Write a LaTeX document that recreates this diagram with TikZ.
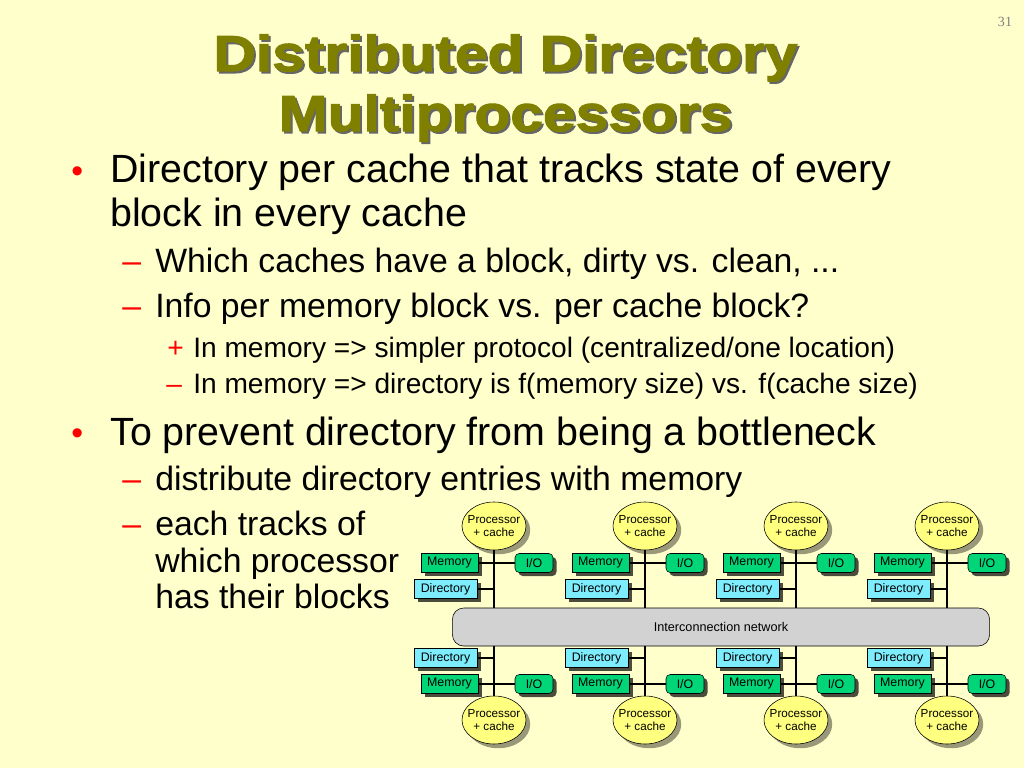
\documentclass[tikz,border=0pt]{standalone}
\usepackage{fontspec}
\setmainfont{Liberation Sans}
\newfontfamily\titelfont{Liberation Sans}[BoldFeatures={FakeBold=2},FakeStretch=1.16]
\newfontfamily\seitenfont{Liberation Serif}
\usetikzlibrary{shapes.geometric,shadows}
\definecolor{hgrund}{RGB}{255,255,204}
\definecolor{titel}{RGB}{128,128,0}
\definecolor{speicher}{RGB}{0,214,120}
\definecolor{verz}{RGB}{125,236,252}
\definecolor{proz}{RGB}{255,255,128}
\definecolor{netz}{RGB}{210,210,210}
\begin{document}
\begin{tikzpicture}[x=0.025cm,y=-0.025cm,
	txt/.style={anchor=base west,inner sep=0pt},
	ebene1/.style={txt,font=\fontsize{28}{34}\selectfont},
	ebene2/.style={txt,font=\fontsize{24}{29}\selectfont},
	ebene3/.style={txt,font=\fontsize{20}{24}\selectfont},
	zeichen/.style={text=red},
	titeltext/.style={anchor=base,inner sep=0pt,font=\titelfont\bfseries\fontsize{36}{40}\selectfont},
	kasten/.style={draw,thin,inner sep=0pt,minimum height=0.475cm,font=\fontsize{8.8}{10}\selectfont,
		drop shadow={shadow xshift=2.5pt,shadow yshift=-2.5pt,fill=black,opacity=0.7}},
	speicherbox/.style={kasten,fill=speicher,minimum width=1.425cm},
	verzbox/.style={kasten,fill=verz,minimum width=1.575cm},
	iobox/.style={kasten,fill=speicher,minimum width=0.95cm,rounded corners=3pt},
	prozessor/.style={ellipse,draw,thin,fill=proz,minimum width=1.6cm,minimum height=1.2cm,
		inner xsep=-3pt,inner ysep=0pt,align=center,font=\fontsize{8.3}{9.4}\selectfont,
		drop shadow={shadow xshift=3pt,shadow yshift=-3pt,fill=black,opacity=0.4}},
	netzbox/.style={draw,thin,fill=netz,rounded corners=8pt,minimum width=13.425cm,minimum height=0.95cm,
		font=\fontsize{9}{10}\selectfont},
	bus/.style={line width=1.4pt},
	quer/.style={line width=0.9pt}]
	% Hintergrund
	\fill [hgrund] (0,0) rectangle (1024,768);
	\useasboundingbox (0,0) rectangle (1024,768);
	% Seitenzahl
	\node [anchor=base,text=black!50,font=\seitenfont\fontsize{10}{12}\selectfont] (seite) at (1005,27) {31};
	% Titel mit Schatten
	\node [titeltext,text=black!60] (titel1s) at (507.5,73) {Distributed Directory};
	\node [titeltext,text=black!60] (titel2s) at (507.5,133) {Multiprocessors};
	\node [titeltext,text=titel] (titel1) at (505.5,71) {Distributed Directory};
	\node [titeltext,text=titel] (titel2) at (505.5,131) {Multiprocessors};
	% Aufzaehlung
	\node [ebene1,zeichen,font=\fontsize{24}{28}\selectfont] (b1) at (71,182) {•};
	\node [ebene1] (t1) at (110,183) {Directory per cache that tracks state of every};
	\node [ebene1] (t2) at (110,226) {block in every cache};
	\node [ebene2,zeichen] (b2) at (122,272) {–};
	\node [ebene2] (t3) at (155,272) {Which caches have a block, dirty vs. clean, ...};
	\node [ebene2,zeichen] (b3) at (122,317) {–};
	\node [ebene2] (t4) at (155,317) {Info per memory block vs. per cache block?};
	\node [ebene3,zeichen] (b4) at (167,357) {+};
	\node [ebene3] (t5) at (193,357) {In memory => simpler protocol (centralized/one location)};
	\node [ebene3,zeichen] (b5) at (166,393) {–};
	\node [ebene3] (t6) at (193,393) {In memory => directory is f(memory size) vs. f(cache size)};
	\node [ebene1,zeichen,font=\fontsize{24}{28}\selectfont] (b6) at (71,444) {•};
	\node [ebene1] (t7) at (110,445) {To prevent directory from being a bottleneck};
	\node [ebene2,zeichen] (b7) at (122,490) {–};
	\node [ebene2] (t8) at (155,490) {distribute directory entries with memory};
	\node [ebene2,zeichen] (b8) at (122,535) {–};
	\node [ebene2] (t9) at (155,535) {each tracks of};
	\node [ebene2] (t10) at (155,572) {which processor};
	\node [ebene2] (t11) at (155,608) {has their blocks};
	% Netzwerk
	\node [netzbox] (netz) at (721,627) {Interconnection network};
	% Knoten
	\foreach \i/\x in {1/494,2/645,3/796,4/947} {
		% oben
		\node [prozessor] (po\i) at (\x,526) {Processor\\+ cache};
		\node [speicherbox] (mo\i) at (\x-44.5,563) {Memory};
		\node [iobox] (io\i) at (\x+40,563) {I/O};
		\node [verzbox] (do\i) at (\x-48.5,589) {Directory};
		\draw [bus] (po\i.south) -- (po\i.south |- netz.north);
		\draw [quer] (mo\i.east) -- (io\i.west);
		\draw [quer] (do\i.east) -- (do\i.east -| po\i.south);
		% unten
		\node [verzbox] (du\i) at (\x-48.5,658) {Directory};
		\node [speicherbox] (mu\i) at (\x-44.5,684) {Memory};
		\node [iobox] (iu\i) at (\x+40,684) {I/O};
		\node [prozessor] (pu\i) at (\x,720) {Processor\\+ cache};
		\draw [bus] (pu\i.north) -- (pu\i.north |- netz.south);
		\draw [quer] (mu\i.east) -- (iu\i.west);
		\draw [quer] (du\i.east) -- (du\i.east -| pu\i.north);
	}
\end{tikzpicture}
\end{document}
